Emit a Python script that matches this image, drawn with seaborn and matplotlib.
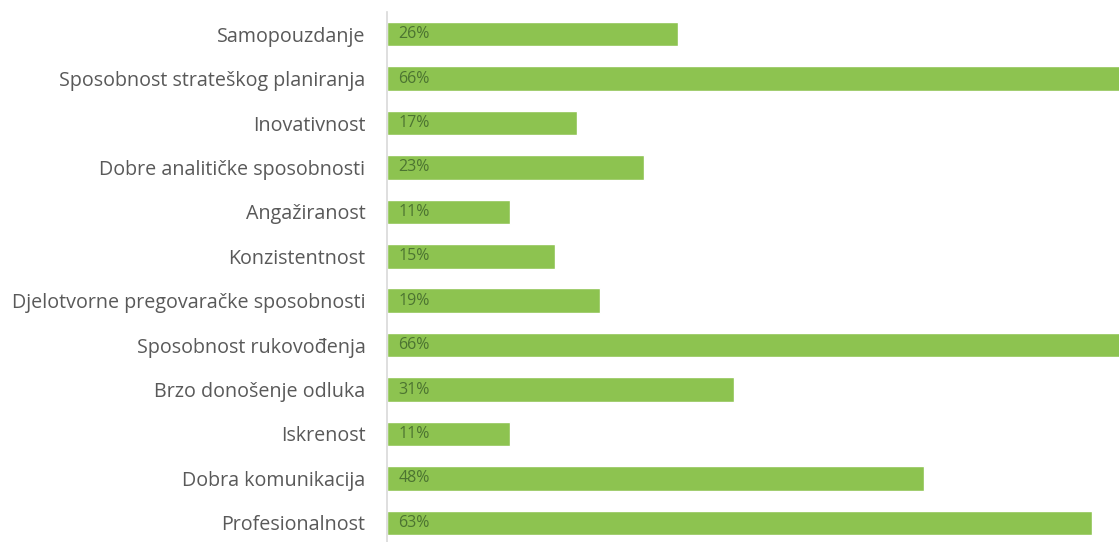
import matplotlib
matplotlib.use("Agg")
import matplotlib.pyplot as plt
import seaborn as sns
import pandas as pd

categories = [
    "Samopouzdanje",
    "Sposobnost strateškog planiranja",
    "Inovativnost",
    "Dobre analitičke sposobnosti",
    "Angažiranost",
    "Konzistentnost",
    "Djelotvorne pregovaračke sposobnosti",
    "Sposobnost rukovođenja",
    "Brzo donošenje odluka",
    "Iskrenost",
    "Dobra komunikacija",
    "Profesionalnost",
]
values = [26, 66, 17, 23, 11, 15, 19, 66, 31, 11, 48, 63]

df = pd.DataFrame({"kategorija": categories, "postotak": values})

sns.set_theme(style="white")
plt.rcParams["font.family"] = ["Open Sans", "DejaVu Sans"]

W, H = 1119, 542
fig = plt.figure(figsize=(W / 100, H / 100), dpi=100)
ax = fig.add_axes([387 / W, -3 / H, 1 - 387 / W, (H - 12 + 3) / H])

sns.barplot(data=df, y="kategorija", x="postotak", orient="h",
            color="#8dc350", saturation=1, width=0.55, ax=ax)

ax.set_xlim(0, 65.4)
ax.set_ylim(11.5, -0.5)
ax.set_xlabel("")
ax.set_ylabel("")
ax.set_xticks([])
for s in ["top", "right", "bottom"]:
    ax.spines[s].set_visible(False)
ax.spines["left"].set_color("#d9d9d9")
ax.spines["left"].set_linewidth(1.2)
ax.tick_params(axis="y", length=0, pad=15.5, labelsize=14.2, labelcolor="#595959")

for i, v in enumerate(values):
    ax.text(1.0, i, f"{v}%", va="center", ha="left",
            fontsize=11.5, color="#4c7431")

fig.savefig("out.png", dpi=100, facecolor="white")
